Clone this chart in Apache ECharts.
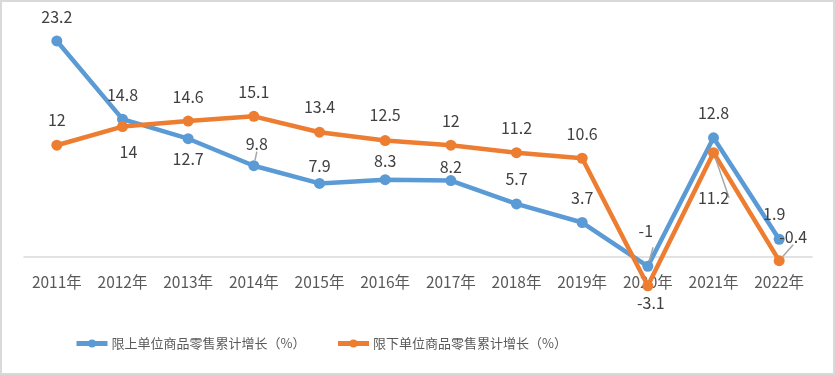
<!DOCTYPE html>
<html><head><meta charset="utf-8">
<script src="https://cdn.jsdelivr.net/npm/echarts@6/dist/echarts.min.js"></script>
<style>
html,body{margin:0;padding:0;background:#fff;}
#wrap{position:absolute;left:0;top:0;width:831px;height:371px;border:2px solid #d9d9d9;}
#chart{position:absolute;left:-2px;top:-2px;width:835px;height:375px;}
</style></head>
<body><div id="wrap"><div id="chart"></div></div>
<script>
const categories = ['2011年','2012年','2013年','2014年','2015年','2016年','2017年','2018年','2019年','2020年','2021年','2022年'];
const seriesNames = ['限上单位商品零售累计增长（%）','限下单位商品零售累计增长（%）'];
const aboveValues = [23.2, 14.8, 12.7, 9.8, 7.9, 8.3, 8.2, 5.7, 3.7, -1, 12.8, 1.9];
const belowValues = [12, 14, 14.6, 15.1, 13.4, 12.5, 12, 11.2, 10.6, -3.1, 11.2, -0.4];

// label placement (offset of label centre from its point, in px) and guide lines
const aboveLabelOffsets = [[0,-24],[0,-24],[0,20],[3,-22],[0,-17],[0,-19],[0,-14],[0,-25],[0,-25],[-2,-35],[0,-25],[-5,-25]];
const belowLabelOffsets = [[0,-25],[6,25],[0,-24],[0,-24],[0,-25],[0,-26],[0,-24],[0,-25],[0,-24],[3,17],[0,45],[14,-24]];
const aboveGuides = [3, 9];
const belowGuides = [10, 11];

function buildData(values, offsets, guides){
  return values.map((v,i)=>({
    value: v,
    label: {offset: offsets[i]},
    labelLine: {show: guides.indexOf(i) >= 0}
  }));
}

const labelStyle = {
  show: true, position: 'inside', fontSize: 16, color: '#404040',
  fontFamily: '"Noto Sans CJK SC", "Noto Sans", sans-serif'
};
const chart = echarts.init(document.getElementById('chart'), null, {renderer:'canvas'});
chart.setOption({
  animation: false,
  backgroundColor: 'transparent',
  grid: {left: 24, right: 23, top: 24.2, height: 279.3},
  legend: {
    left: 69, top: 332, itemWidth: 31, itemHeight: 10, itemGap: 30,
    lineStyle: {width: 5},
    textStyle: {fontSize: 13, color: '#595959', fontFamily: '"Noto Sans CJK SC", sans-serif', padding:[0,0,0,-1]},
    data: seriesNames
  },
  xAxis: {
    type: 'category', data: categories, boundaryGap: true,
    axisLine: {onZero: true, lineStyle: {color: '#d9d9d9', width: 1.5}},
    axisTick: {show: false},
    axisLabel: {margin: -29, fontSize: 15.5, color: '#595959', interval: 0,
      fontFamily: '"Noto Sans CJK SC", sans-serif'}
  },
  yAxis: {type: 'value', min: -5, max: 25, show: false, splitLine: {show: false}},
  series: [
    {
      name: seriesNames[0], type: 'line', data: buildData(aboveValues, aboveLabelOffsets, aboveGuides),
      symbol: 'circle', symbolSize: 11,
      lineStyle: {color: '#5B9BD5', width: 4.5},
      itemStyle: {color: '#5B9BD5'},
      label: labelStyle,
      labelLine: {show: false, lineStyle: {color: '#a6a6a6', width: 1.5}}
    },
    {
      name: seriesNames[1], type: 'line', data: buildData(belowValues, belowLabelOffsets, belowGuides),
      symbol: 'circle', symbolSize: 11,
      lineStyle: {color: '#ED7D31', width: 4.5},
      itemStyle: {color: '#ED7D31'},
      label: labelStyle,
      labelLine: {show: false, lineStyle: {color: '#a6a6a6', width: 1.5}}
    }
  ]
});
</script></body></html>
